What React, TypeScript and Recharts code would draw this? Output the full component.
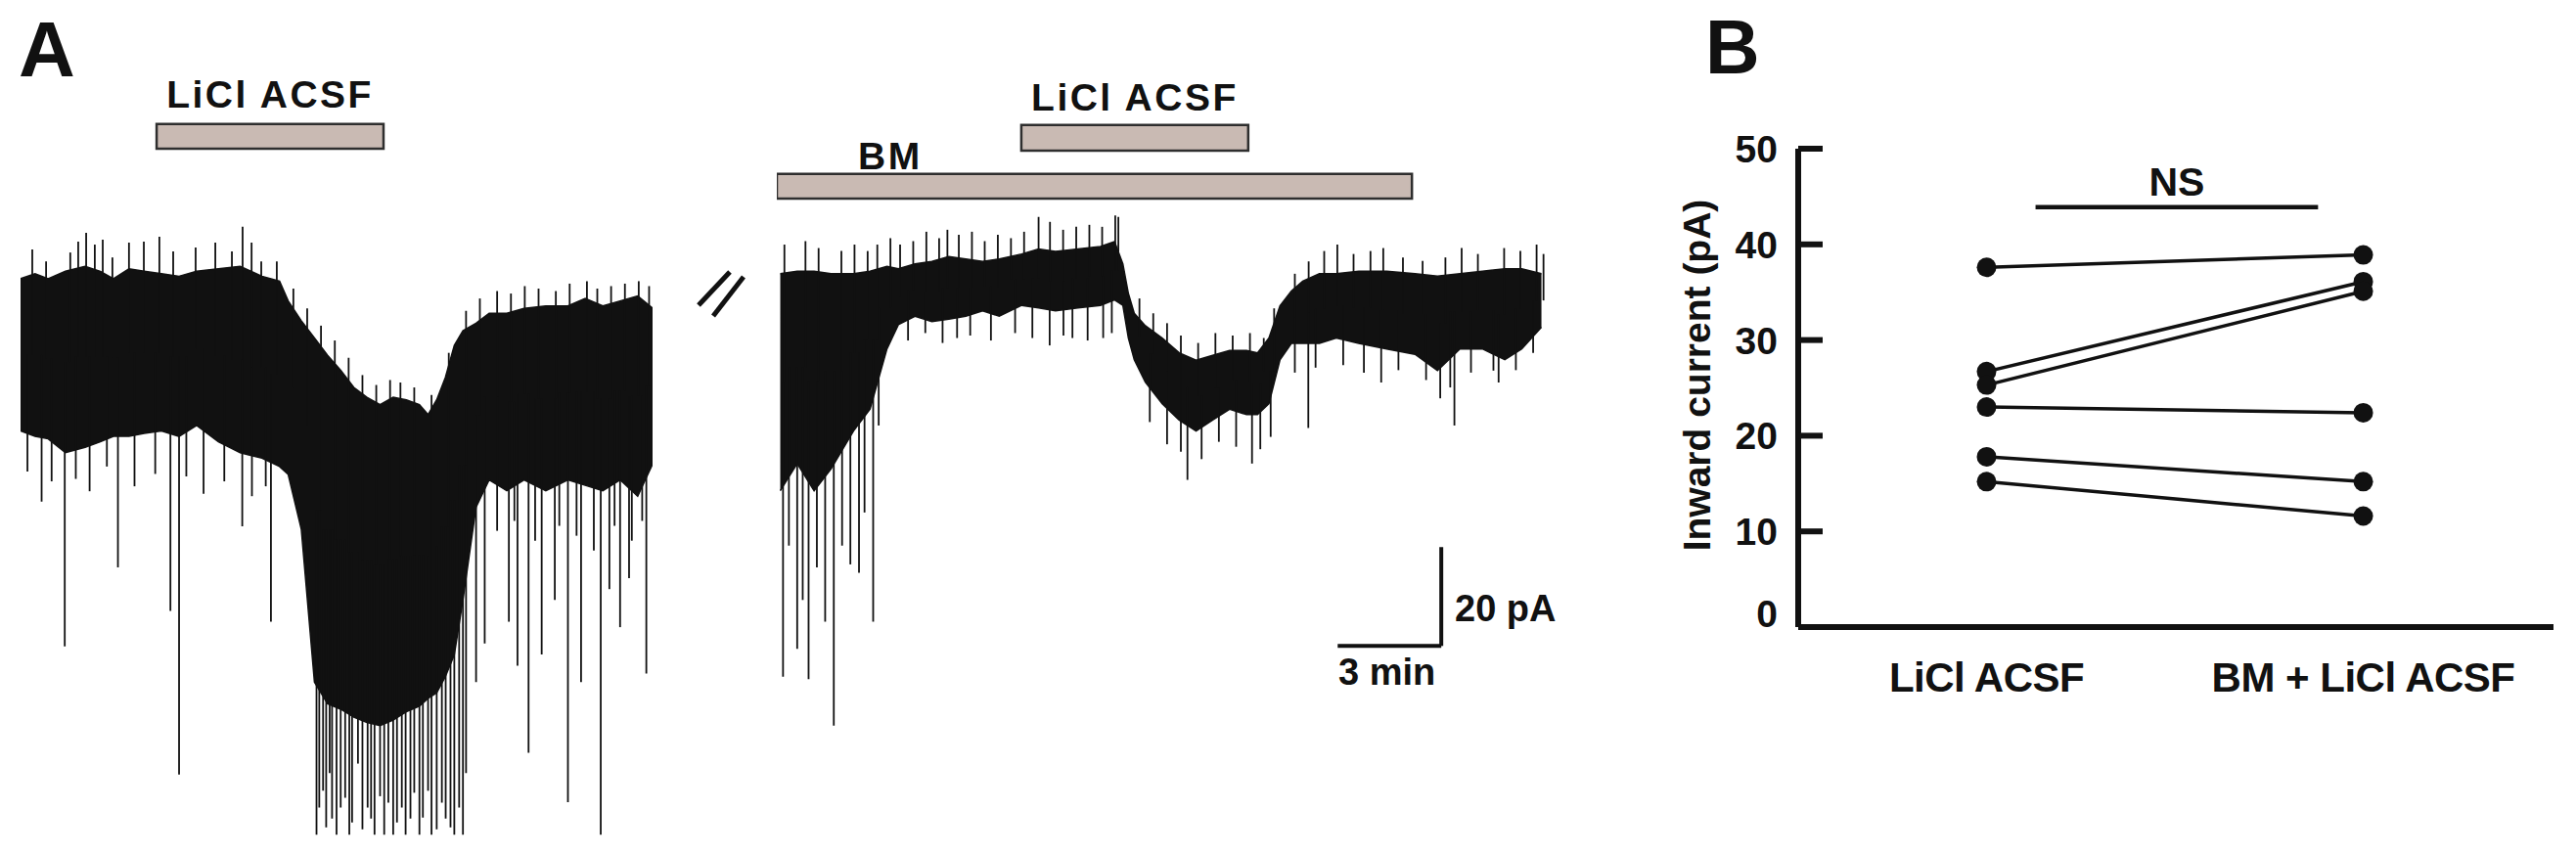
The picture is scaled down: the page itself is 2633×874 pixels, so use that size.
import React from 'react'
import {
  ComposedChart, Area, Scatter, ErrorBar, XAxis, YAxis, ReferenceArea, ReferenceLine,
  LineChart, Line,
} from 'recharts'

const FONT = '"Liberation Sans", Arial, Helvetica, sans-serif'
const INK = '#111111'
const BAR_FILL = '#c9bab3'

// ---- Panel A, first trace (time in min, current in pA) ----
// dense part of the recording: upper and lower edge of the black band
const leftTime = [0.0, 0.42, 0.8, 1.3, 1.87, 2.31, 2.69, 3.14, 3.58, 4.08, 4.59, 5.1, 5.73, 6.36, 6.99, 7.5, 7.75, 8.13, 8.51, 8.89, 9.27, 9.65, 10.03, 10.41, 10.79, 11.17, 11.55, 11.8, 12.05, 12.3, 12.56, 12.81, 13.19, 13.57, 14.08, 14.58, 15.21, 15.85, 16.35, 16.86, 17.36, 17.87, 18.31]
const leftUpper = [3.0, 4.0, 3.0, 4.5, 5.5, 4.5, 3.0, 5.0, 4.5, 4.0, 3.5, 4.5, 5.0, 5.5, 3.5, 2.5, -1.5, -5.5, -9.0, -12.5, -15.5, -19.0, -21.0, -22.5, -21.0, -21.5, -22.5, -24.5, -21.5, -17.0, -10.5, -7.5, -6.0, -4.0, -4.0, -3.0, -2.5, -2.5, -1.0, -2.5, -1.5, -0.5, -3.0]
const leftLower = [-27.8, -28.9, -29.4, -32.2, -31.1, -30.0, -28.9, -28.9, -28.3, -27.8, -28.9, -26.7, -30.0, -32.2, -33.3, -35.0, -36.6, -47.7, -78.6, -83.0, -84.1, -85.7, -86.8, -87.4, -86.3, -84.6, -83.5, -81.9, -80.8, -77.5, -73.1, -62.0, -43.2, -37.7, -39.9, -37.7, -39.9, -37.7, -38.8, -39.9, -37.7, -41.0, -34.4]
// single events sticking out of the band: [time, tip]
const leftEvents: [number, number][] = [
  [0.61, -42.1], [1.28, -71.4], [2.82, -55.4], [4.34, -64.2], [4.59, -97.3], [6.42, -47.1], [7.25, -66.4],
  [8.57, -109.5], [8.65, -104], [8.76, -100.6], [8.85, -108], [8.95, -97], [9.02, -106.2], [9.15, -109.5],
  [9.27, -104.0], [9.4, -102], [9.52, -109.5], [9.6, -107], [9.77, -95.1], [9.9, -108.4], [10.05, -104],
  [10.15, -106.2], [10.25, -109.5], [10.41, -101.7], [10.53, -109.5], [10.65, -103], [10.79, -109.5],
  [10.9, -107], [11.04, -104.0], [11.15, -109.5], [11.29, -106.2], [11.4, -101], [11.55, -109.5], [11.65, -106],
  [11.8, -100.6], [11.9, -109.5], [12.05, -108.4], [12.2, -103], [12.31, -106.2], [12.45, -108], [12.56, -109.5],
  [12.7, -104], [12.81, -109.5], [12.9, -97], [13.19, -78.6], [13.44, -70.8], [14.14, -66.4], [14.39, -75.3],
  [14.71, -92.9], [15.09, -73.0], [15.47, -62.0], [15.85, -102.9], [16.23, -78.6], [16.8, -109.5], [17.05, -59.8],
  [17.36, -67.5], [17.62, -57.6], [18.12, -76.9],
  [0.2, -36], [0.9, -38], [1.6, -37.5], [2.0, -40], [2.5, -35], [3.3, -39], [3.9, -36.5], [4.8, -37], [5.3, -40.5],
  [5.9, -38], [6.7, -41], [7.1, -39], [13.8, -48], [14.3, -46], [14.9, -50], [15.6, -47], [16.1, -49], [16.6, -52],
  [17.2, -47], [17.7, -50], [18.0, -46],
  [0.34, 8.9], [0.74, 6.5], [1.44, 8.3], [1.67, 10.5], [1.9, 12.3], [2.15, 9.9], [2.38, 10.9], [2.66, 7.3],
  [3.14, 10.3], [3.57, 10.5], [4.02, 11.5], [4.42, 8.5], [5.07, 9.3], [5.64, 10.3], [6.12, 8.5], [6.43, 13.5],
  [6.69, 10.3], [6.97, 6.5], [7.42, 6.5], [7.9, 1.0], [8.3, -3.0], [8.7, -6.5], [9.1, -9.5], [9.5, -13.0],
  [9.9, -16.5], [10.3, -18.5], [10.7, -17.5], [11.0, -18.0], [11.4, -19.0], [11.9, -20.5], [12.4, -12.0],
  [12.9, -3.5], [13.3, -1.0], [13.8, 0.5], [14.2, 0.0], [14.6, 1.5], [15.0, 1.0], [15.5, 0.5], [15.9, 2.0],
  [16.4, 2.5], [16.7, 1.0], [17.1, 1.5], [17.5, 2.0], [17.9, 2.5], [18.2, 1.5],
]

// ---- Panel A, second trace (after the break) ----
const rightTime = [0.1, 0.59, 1.08, 1.57, 2.22, 2.7, 3.19, 3.52, 4.0, 4.49, 4.98, 5.47, 5.96, 6.44, 7.09, 7.58, 8.07, 8.72, 9.37, 9.78, 10.02, 10.18, 10.35, 10.67, 11.16, 11.65, 12.14, 12.62, 13.11, 13.6, 13.92, 14.25, 14.57, 14.9, 15.23, 15.71, 16.2, 16.85, 17.66, 18.48, 19.13, 19.78, 20.43, 21.08, 21.57, 22.14]
const rightUpper = [4.0, 4.5, 4.5, 4.0, 4.0, 4.5, 5.5, 5.0, 6.0, 6.5, 7.5, 7.0, 6.5, 7.0, 8.0, 9.0, 8.5, 9.0, 9.5, 10.5, 6.0, 0.0, -4.0, -6.5, -9.0, -12.0, -13.5, -12.5, -11.5, -11.5, -12.0, -9.0, -2.5, 0.5, 2.5, 4.0, 4.0, 4.5, 4.5, 4.0, 3.5, 4.0, 4.5, 5.0, 5.0, 4.0]
const rightLower = [-39.9, -34.4, -39.9, -35.5, -27.8, -23.4, -11.2, -6.3, -4.6, -5.7, -5.2, -4.6, -3.5, -4.6, -2.4, -2.9, -3.5, -2.9, -2.4, -1.3, -2.4, -9.0, -13.4, -17.9, -22.3, -25.6, -27.8, -25.6, -23.4, -24.5, -24.5, -22.3, -13.4, -10.1, -10.1, -10.1, -9.0, -10.1, -11.2, -12.3, -15.6, -11.2, -11.2, -13.4, -11.2, -6.8]
const rightEvents: [number, number][] = [
  [0.18, -77.5], [0.35, -51.0], [0.59, -71.9], [0.75, -62.0], [0.92, -78.0], [1.16, -55.4], [1.4, -66.4],
  [1.65, -87.4], [1.89, -51.0], [2.13, -54.8], [2.38, -56.5], [2.54, -44.3], [2.79, -66.4], [2.95, -26.7],
  [5.22, -9.0], [8.56, -9.0], [9.45, -9.0], [11.89, -37.7], [13.76, -34.4], [15.39, -27.2], [19.21, -21.2],
  [19.62, -26.7], [20.75, -15.6],
  [3.8, -9.5], [4.3, -8.0], [4.8, -10.0], [5.6, -8.5], [6.2, -9.5], [6.9, -8.0], [7.4, -9.0], [7.9, -10.5],
  [8.3, -8.5], [9.0, -9.5], [9.7, -8.0], [10.8, -26], [11.3, -30.5], [11.7, -32], [12.3, -33.5], [12.8, -30],
  [13.3, -31], [14.0, -31.5], [14.3, -29], [15.0, -16], [15.6, -15], [16.4, -14.5], [17.0, -16], [17.5, -18],
  [18.0, -15.5], [18.8, -17.5], [19.5, -19], [20.1, -16], [20.9, -18], [21.4, -15.5], [21.9, -12],
  [0.22, 9.9], [0.83, 10.6], [1.21, 9.2], [1.87, 8.6], [2.25, 9.9], [2.63, 8.6], [2.91, 9.9], [3.29, 11.2],
  [3.57, 9.9], [3.95, 10.6], [4.33, 12.5], [4.7, 11.2], [4.94, 12.9], [5.27, 11.9], [5.65, 12.5], [6.02, 10.6],
  [6.4, 11.9], [6.78, 11.2], [7.16, 12.5], [7.58, 15.5], [7.91, 14.5], [8.29, 12.9], [8.67, 13.5], [9.05, 13.9],
  [9.42, 13.5], [9.8, 15.8], [9.89, 15.5], [10.5, -1.0], [10.9, -4.0], [11.3, -6.0], [11.7, -8.5], [12.2, -10.0],
  [12.7, -8.0], [13.2, -8.5], [13.7, -8.0], [14.1, -9.0], [14.4, -3.0], [15.0, 4.0], [15.4, 6.5], [15.85, 8.6],
  [16.23, 9.9], [16.7, 8.0], [17.19, 8.6], [17.56, 9.2], [18.13, 7.3], [18.7, 6.6], [19.36, 7.3], [19.83, 9.2],
  [20.3, 8.0], [21.06, 9.2], [21.53, 8.6], [22.0, 9.9], [22.2, 8.0],
]

// drug application bars, in trace time (min) / current units
const leftLiclBar = { from: 3.94, to: 10.51, low: 29.3, high: 34.3 }
const bmBar = { from: 0, to: 18.39, low: 19.2, high: 24.2 }
const rightLiclBar = { from: 7.08, to: 13.65, low: 28.9, high: 34.1 }
const scaleBar = { t: 19.24, pA: -71.3, minutes: 3, current: 20 }

// ---- Panel B ----
const conditions = ['LiCl ACSF', 'BM + LiCl ACSF']
const liclCurrent = [37.6, 26.7, 25.3, 23.0, 17.8, 15.2]
const bmLiclCurrent = [38.9, 36.1, 35.1, 22.4, 15.2, 11.6]
const currentTicks = [0, 10, 20, 30, 40, 50]
const nsBracket = { from: 0.13, to: 0.88, level: 43.9 }

const PX_PER_MIN = 35.3
const TRACE_TOP = 7
const TRACE_HEIGHT = 864
const TRACE_DOMAIN: [number, number] = [-113, 58]

type BandRow = { t: number; band: [number, number] }

const buildBand = (time: number[], upper: number[], lower: number[]): BandRow[] =>
  time.map((t, i) => ({ t, band: [lower[i], upper[i]] }))

// every event starts inside the band (middle of the nearest band sample)
const buildEvents = (events: [number, number][], band: BandRow[]) =>
  events.map(([t, tip]) => {
    let k = 0
    band.forEach((b, j) => {
      if (Math.abs(b.t - t) < Math.abs(band[k].t - t)) k = j
    })
    const root = (band[k].band[0] + band[k].band[1]) / 2
    return { t, root, reach: tip < root ? [root - tip, 0] : [0, tip - root] }
  })

const leftBand = buildBand(leftTime, leftUpper, leftLower)
const rightBand = buildBand(rightTime, rightUpper, rightLower)
const leftSpikes = buildEvents(leftEvents, leftBand)
const rightSpikes = buildEvents(rightEvents, rightBand)

const textStyle = { fontFamily: FONT, fontWeight: 700, fill: INK } as const

const barLabel = (text: string, dx: number | null, dy: number) => (props: any) => {
  const vb = props.viewBox || {}
  const x = dx === null ? vb.x + vb.width / 2 : vb.x + dx
  return (
    <text x={x} y={vb.y - dy} textAnchor={dx === null ? 'middle' : 'start'} fontSize={39} letterSpacing={2.5} {...textStyle}>
      {text}
    </text>
  )
}

function TraceChart({ band, spikes, maxT, left, children }: any) {
  return (
    <div style={{ position: 'absolute', left, top: TRACE_TOP }}>
      <ComposedChart width={maxT * PX_PER_MIN} height={TRACE_HEIGHT} data={band} margin={{ top: 0, right: 0, bottom: 0, left: 0 }}>
        <XAxis dataKey="t" type="number" domain={[0, maxT]} hide allowDataOverflow />
        <YAxis type="number" domain={TRACE_DOMAIN} hide allowDataOverflow />
        {children}
        <Area
          dataKey="band"
          type="linear"
          stroke={INK}
          strokeWidth={1.5}
          fill={INK}
          fillOpacity={1}
          dot={false}
          activeDot={false}
          isAnimationActive={false}
        />
        <Scatter data={spikes} dataKey="root" shape={() => <g />} isAnimationActive={false}>
          <ErrorBar dataKey="reach" direction="y" width={0} stroke={INK} strokeWidth={1.8} />
        </Scatter>
      </ComposedChart>
    </div>
  )
}

const CurrentTick = (props: any) => {
  const { x, y, payload } = props
  return (
    <text x={x} y={payload.value === 0 ? y : y + 14} textAnchor="end" fontSize={39} {...textStyle}>
      {payload.value}
    </text>
  )
}

const ConditionTick = (props: any) => {
  const { x, y, payload } = props
  return (
    <text x={x} y={y + 66} textAnchor="middle" fontSize={42} letterSpacing={-0.5} {...textStyle}>
      {conditions[payload.value]}
    </text>
  )
}

const CurrentTitle = (props: any) => {
  const vb = props.viewBox || {}
  const x = vb.x + 10
  const y = vb.y + vb.height / 2 - 13
  return (
    <text x={x} y={y} transform={`rotate(-90, ${x}, ${y})`} textAnchor="middle" fontSize={39} {...textStyle}>
      Inward current (pA)
    </text>
  )
}

export default function App() {
  const pairRows = conditions.map((_, i) => {
    const row: Record<string, number> = { pos: i }
    const values = i === 0 ? liclCurrent : bmLiclCurrent
    values.forEach((v, k) => { row['cell' + k] = v })
    return row
  })

  return (
    <div style={{ position: 'absolute', left: 0, top: 0, width: 2633, height: 874, background: '#fff', overflow: 'hidden', fontFamily: FONT }}>
      <TraceChart band={leftBand} spikes={leftSpikes} maxT={18.3} left={21}>
        <ReferenceArea
          x1={leftLiclBar.from} x2={leftLiclBar.to} y1={leftLiclBar.low} y2={leftLiclBar.high}
          fill={BAR_FILL} fillOpacity={1} stroke="#2e2e2e" strokeWidth={2.5}
          label={{ content: barLabel('LiCl ACSF', null, 17) }}
        />
      </TraceChart>

      <TraceChart band={rightBand} spikes={rightSpikes} maxT={22.3} left={794}>
        <ReferenceArea
          x1={bmBar.from} x2={bmBar.to} y1={bmBar.low} y2={bmBar.high}
          fill={BAR_FILL} fillOpacity={1} stroke="#2e2e2e" strokeWidth={2.5}
          label={{ content: barLabel('BM', 83, 5) }}
        />
        <ReferenceArea
          x1={rightLiclBar.from} x2={rightLiclBar.to} y1={rightLiclBar.low} y2={rightLiclBar.high}
          fill={BAR_FILL} fillOpacity={1} stroke="#2e2e2e" strokeWidth={2.5}
          label={{ content: barLabel('LiCl ACSF', null, 15) }}
        />
        <ReferenceLine
          segment={[{ x: scaleBar.t, y: scaleBar.pA }, { x: scaleBar.t, y: scaleBar.pA + scaleBar.current }]}
          stroke={INK} strokeWidth={4}
        />
        <ReferenceLine
          segment={[{ x: scaleBar.t - scaleBar.minutes, y: scaleBar.pA }, { x: scaleBar.t, y: scaleBar.pA }]}
          stroke={INK} strokeWidth={4}
        />
      </TraceChart>

      <div style={{ position: 'absolute', left: 1700, top: 100 }}>
        <LineChart width={933} height={774} data={pairRows} margin={{ top: 52, right: 23, bottom: 153, left: 38 }}>
          <XAxis
            dataKey="pos" type="number" domain={[-0.5, 1.505]} ticks={[0, 1]} allowDataOverflow
            height={80} tickSize={0} tickMargin={0} tickLine={false}
            axisLine={{ stroke: INK, strokeWidth: 6 }} tick={<ConditionTick />}
          />
          <YAxis
            type="number" domain={[0, 50]} ticks={currentTicks} interval={0} allowDataOverflow
            width={100} tickSize={-25} tickMargin={46}
            tickLine={{ stroke: INK, strokeWidth: 6 }} axisLine={{ stroke: INK, strokeWidth: 6 }}
            tick={<CurrentTick />} label={{ content: CurrentTitle }}
          />
          <ReferenceLine
            segment={[{ x: nsBracket.from, y: nsBracket.level }, { x: nsBracket.to, y: nsBracket.level }]}
            stroke={INK} strokeWidth={4.5}
            label={{ value: 'NS', position: 'top', offset: 12, fontSize: 41, fontWeight: 700, fill: INK, fontFamily: FONT }}
          />
          {liclCurrent.map((_, k) => (
            <Line
              key={k}
              dataKey={'cell' + k}
              type="linear"
              stroke={INK}
              strokeWidth={3.5}
              dot={{ r: 10, fill: INK, stroke: 'none' }}
              activeDot={false}
              isAnimationActive={false}
            />
          ))}
        </LineChart>
      </div>

      <svg width={2633} height={874} style={{ position: 'absolute', left: 0, top: 0, pointerEvents: 'none' }}>
        <text x={19} y={78} fontSize={80} {...textStyle}>A</text>
        <text x={1743} y={75} fontSize={77} {...textStyle}>B</text>
        <line x1={714} y1={312} x2={746} y2={278} stroke={INK} strokeWidth={5} />
        <line x1={729} y1={323} x2={760} y2={283} stroke={INK} strokeWidth={5} />
        <text x={1487} y={635} fontSize={38} {...textStyle}>20 pA</text>
        <text x={1368} y={700} fontSize={38} {...textStyle}>3 min</text>
      </svg>
    </div>
  )
}
